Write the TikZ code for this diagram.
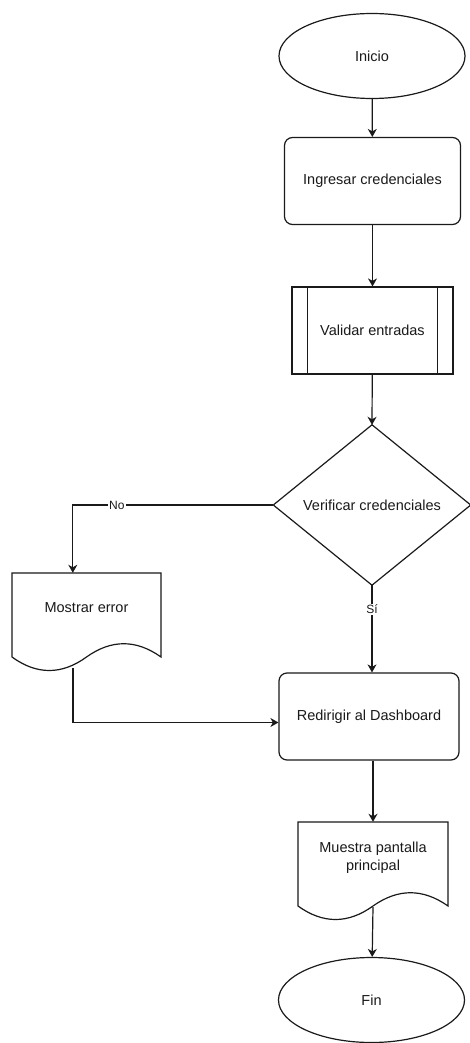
\documentclass[tikz,border=0pt]{standalone}
\usepackage{fontspec}
\setmainfont{Liberation Sans}
\usetikzlibrary{shapes.geometric,arrows.meta,calc}
\definecolor{ink}{HTML}{1A1A1A}
\begin{document}
\begin{tikzpicture}[x=1pt,y=-1pt,
  every node/.style={font=\fontsize{14.5}{18}\selectfont, text=ink},
  shapeline/.style={draw=ink, line width=1.2pt},
  terminal/.style={shapeline, ellipse, inner sep=0pt, minimum width=186pt, minimum height=85pt},
  roundbox/.style={shapeline, rectangle, rounded corners=8pt, inner sep=0pt, minimum width=176pt, minimum height=87pt},
  procbox/.style={shapeline, rectangle, inner sep=0pt, minimum width=161pt, minimum height=87pt},
  frame/.style={rectangle, inner sep=0pt},
  flow/.style={draw=ink, line width=1.2pt, -{Stealth[length=8pt,width=9pt,inset=2.5pt]}},
  edgelabel/.style={fill=white, inner sep=1pt, font=\fontsize{12}{14}\selectfont}
]
% page
\fill[white] (0,0) rectangle (470,1043);
\useasboundingbox (0,0) rectangle (470,1043);

% start
\node[terminal] (ini) at (372,56) {Inicio};

% credentials input
\node[roundbox] (ing) at (372.5,181) {Ingresar credenciales};

% predefined process
\node[procbox] (val) at (372.5,330.5) {Validar entradas};
\draw[shapeline] ($(val.north west)+(16,0)$) -- ($(val.south west)+(16,0)$);
\draw[shapeline] ($(val.north east)+(-16,0)$) -- ($(val.south east)+(-16,0)$);

% decision
\node[frame, minimum width=197pt, minimum height=160pt] (dec) at (372,505) {Verificar credenciales};
\draw[shapeline, line join=miter] (dec.north) -- (dec.east) -- (dec.south) -- (dec.west) -- cycle;

% error document
\node[frame, minimum width=149pt, minimum height=99pt] (err) at (86.5,622.5) {};
\draw[shapeline] (12,573) -- (161,573) -- (161,657)
  .. controls (136.2,639.3) and (111.3,639.3) .. (86.5,657)
  .. controls (61.7,675) and (36.8,675) .. (12,657) -- cycle;
\node (errtxt) at ($(err.north)+(0,35)$) {Mostrar error};
\coordinate (errIn) at ($(err.north west)+(61,0)$);
\coordinate (errOut) at (73,668);

% redirect
\node[roundbox, minimum width=180pt] (red) at (369,716.5) {Redirigir al Dashboard};
\coordinate (redIn) at ($(red.west)+(0,6)$);

% main screen document
\node[frame, minimum width=150pt, minimum height=99pt] (mue) at (373,871.5) {};
\draw[shapeline] (298,822) -- (448,822) -- (448,906)
  .. controls (423,888.3) and (398,888.3) .. (373,906)
  .. controls (348,924) and (323,924) .. (298,906) -- cycle;
\node[align=center] (muetxt) at ($(mue.north)+(0,35.5)$) {Muestra pantalla\\principal};
\coordinate (mueOut) at (373,907);

% end
\node[terminal] (fin) at (371.5,1000) {Fin};

% connectors
\draw[flow] (ini) -- (ing);
\draw[flow] (ing) -- (val);
\draw[flow] (val) -- (dec.north);
\draw[flow] (dec.west) -| node[edgelabel, pos=0.39] {No} (errIn);
\draw[flow] (dec.south) -- node[edgelabel, pos=0.28] {Sí} (dec.south |- red.north);
\draw[flow] (errOut) |- (redIn);
\draw[flow] (mue.north |- red.south) -- (mue.north);
\draw[flow] (mueOut) -- (fin);
\end{tikzpicture}
\end{document}
